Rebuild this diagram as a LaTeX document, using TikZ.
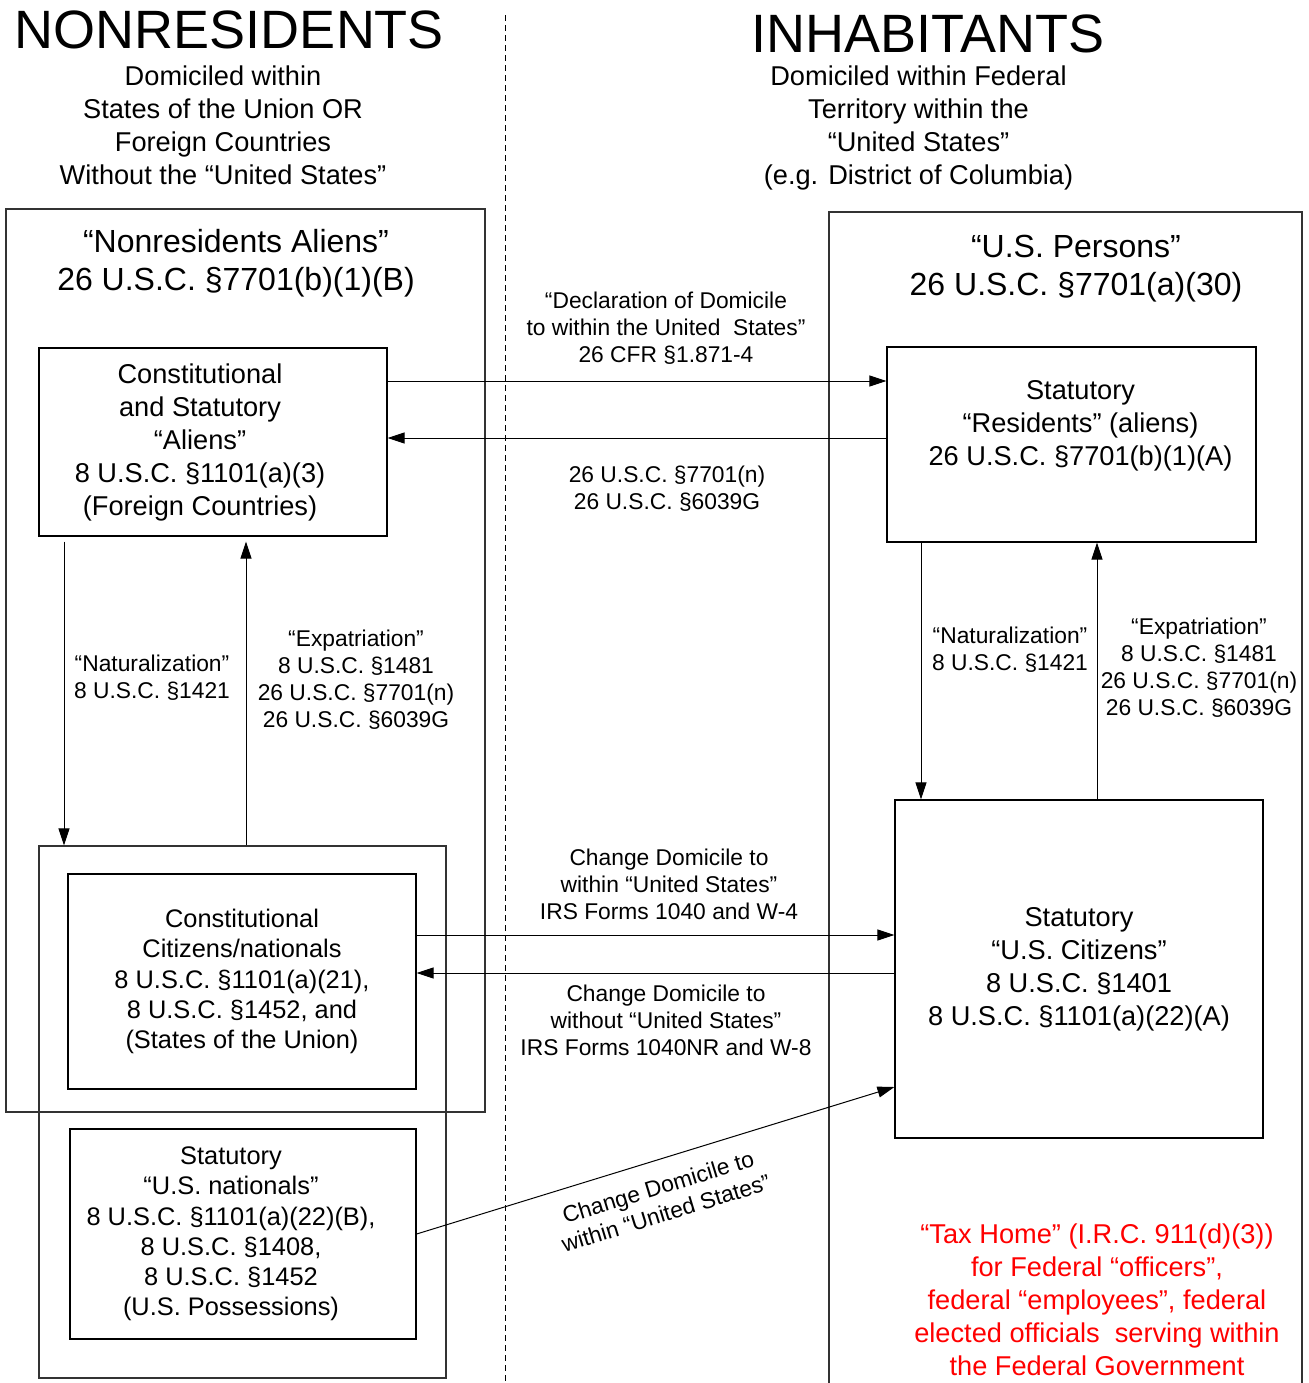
\documentclass[tikz,border=0pt]{standalone}
\usepackage{fontspec}
\setmainfont{Liberation Sans}
\usetikzlibrary{arrows.meta}
\definecolor{TaxRed}{RGB}{255, 0, 0}
\newcommand{\titlefont}{\fontsize{27}{32}\selectfont}
\newcommand{\headfont}{\fontsize{16}{19}\selectfont}
\newcommand{\boxfont}{\fontsize{13.6}{16.5}\selectfont}
\newcommand{\smallboxfont}{\fontsize{12.7}{15.1}\selectfont}
\newcommand{\labfont}{\fontsize{11.4}{13.5}\selectfont}
\tikzstyle{box} = [rectangle, draw, line width=0.6pt, align=center, font=\boxfont, inner sep=0pt]
\tikzstyle{boxtext} = [align=center, font=\boxfont, inner sep=0pt]
\tikzstyle{outerbox} = [rectangle, draw=black!80, line width=0.6pt, inner sep=0pt]
\tikzstyle{lab} = [align=center, font=\labfont, inner sep=0pt]
\tikzstyle{arrow} = [line width=0.5pt, -{Triangle[length=8.5pt,width=5.5pt]}]

\begin{document}
\begin{tikzpicture}[x=0.5pt, y=-0.5pt]
\useasboundingbox (0,0) rectangle (1308,1383);

% Titres
\node (nonres) [font=\titlefont, inner sep=0pt] at (229.5,30) {NONRESIDENTS};
\node (nonresSub) [boxtext] at (223,125) {
    Domiciled within\\
    States of the Union OR\\
    Foreign Countries\\
    Without the “United States”
};
\node (inhab) [font=\titlefont, inner sep=0pt] at (928,34) {INHABITANTS};
\node (inhabSub) [boxtext] at (918.5,128) {
    Domiciled within Federal\\
    Territory within the\\
    “United States”\\
    (e.g. District of Columbia)
};

\draw [dashed, dash pattern=on 3pt off 2pt, line width=0.5pt] (505,15) -- (505,1383);

% Cadres exterieurs
\node (nraBox) [outerbox, minimum width=239.5pt, minimum height=451.5pt] at (245.5,660.5) {};
\node (nraHead) [font=\headfont, align=center, inner sep=0pt] at (236,263) {
    “Nonresidents Aliens”\\
    26 U.S.C. §7701(b)(1)(B)
};
\node (citOuter) [outerbox, minimum width=203.5pt, minimum height=266pt] at (242.5,1112) {};
\draw [draw=black!80, line width=0.6pt] (829,1383) |- (1302,212) -- (1302,1383);
\node (usPersHead) [font=\headfont, align=center, inner sep=0pt] at (1076,269) {
    “U.S. Persons”\\
    26 U.S.C. §7701(a)(30)
};

% Classes de personnes
\node (aliens) [box, minimum width=174pt, minimum height=94pt,
    label={[boxtext, xshift=-6.5pt]center:{Constitutional\\
    and Statutory\\
    “Aliens”\\
    8 U.S.C. §1101(a)(3)\\
    (Foreign Countries)}}] at (213,442) {};

\node (consCit) [box, font=\smallboxfont, minimum width=174pt, minimum height=107.5pt] at (242,981.5) {
    Constitutional\\
    Citizens/nationals\\
    8 U.S.C. §1101(a)(21),\\
    8 U.S.C. §1452, and\\
    (States of the Union)
};

\node (usNat) [box, minimum width=173pt, minimum height=105pt,
    label={[boxtext, font=\smallboxfont, xshift=-6pt]center:{Statutory\\
    “U.S. nationals”\\
    8 U.S.C. §1101(a)(22)(B),\\
    8 U.S.C. §1408,\\
    8 U.S.C. §1452\\
    (U.S. Possessions)}}] at (243,1234) {};

\node (residents) [box, minimum width=184.5pt, minimum height=97.5pt,
    label={[boxtext, xshift=4.5pt, yshift=9.25pt]center:{Statutory\\
    “Residents” (aliens)\\
    26 U.S.C. §7701(b)(1)(A)}}] at (1071.5,444.5) {};

\node (usCit) [box, minimum width=184pt, minimum height=169pt] at (1079,969) {
    Statutory\\
    “U.S. Citizens”\\
    8 U.S.C. §1401\\
    8 U.S.C. §1101(a)(22)(A)
};

% Relations
\draw [arrow] (aliens.east |- 0,381) -- (residents.west |- 0,381);
\draw [arrow] (residents.west |- 0,438) -- (aliens.east |- 0,438);
\draw [arrow] ([yshift=-2.5pt]aliens.south -| 64,0) -- (citOuter.north -| 64,0);
\draw [arrow] (citOuter.north -| 246,0) -- ([yshift=-2.5pt]aliens.south -| 246,0);
\draw [arrow] (residents.south -| 921,0) -- (usCit.north -| 921,0);
\draw [arrow] (usCit.north -| 1097,0) -- (residents.south -| 1097,0);
\draw [arrow] (consCit.east |- 0,935) -- (usCit.west |- 0,935);
\draw [arrow] (usCit.west |- 0,973) -- (consCit.east |- 0,973);
\draw [arrow] (usNat.east) -- (usCit.west |- 0,1087);

% Labels des relations
\node (declLab) [lab] at (666,328) {“Declaration of Domicile\\to within the United \ States”\\26 CFR §1.871-4};
\node (backLab) [lab] at (667,488.5) {26 U.S.C. §7701(n)\\26 U.S.C. §6039G};
\node (natLabL) [lab] at (152,678) {“Naturalization”\\8 U.S.C. §1421};
\node (expLabL) [lab] at (356,679.5) {“Expatriation”\\8 U.S.C. §1481\\26 U.S.C. §7701(n)\\26 U.S.C. §6039G};
\node (natLabR) [lab] at (1010,649.5) {“Naturalization”\\8 U.S.C. §1421};
\node (expLabR) [lab] at (1199,668) {“Expatriation”\\8 U.S.C. §1481\\26 U.S.C. §7701(n)\\26 U.S.C. §6039G};
\node (chgInLab) [lab] at (669,884) {Change Domicile to\\within “United States”\\IRS Forms 1040 and W-4};
\node (chgOutLab) [lab] at (666,1020) {Change Domicile to\\without “United States”\\IRS Forms 1040NR and W-8};
\node (chgNatLab) [lab, rotate=17] at (662,1200) {Change Domicile to\\within “United States”};

% Tax home
\node (taxHome) [boxtext, text=TaxRed] at (1097,1300) {
    “Tax Home” (I.R.C. 911(d)(3))\\
    for Federal “officers”,\\
    federal “employees”, federal\\
    elected officials \ serving within\\
    the Federal Government
};

\end{tikzpicture}
\end{document}
